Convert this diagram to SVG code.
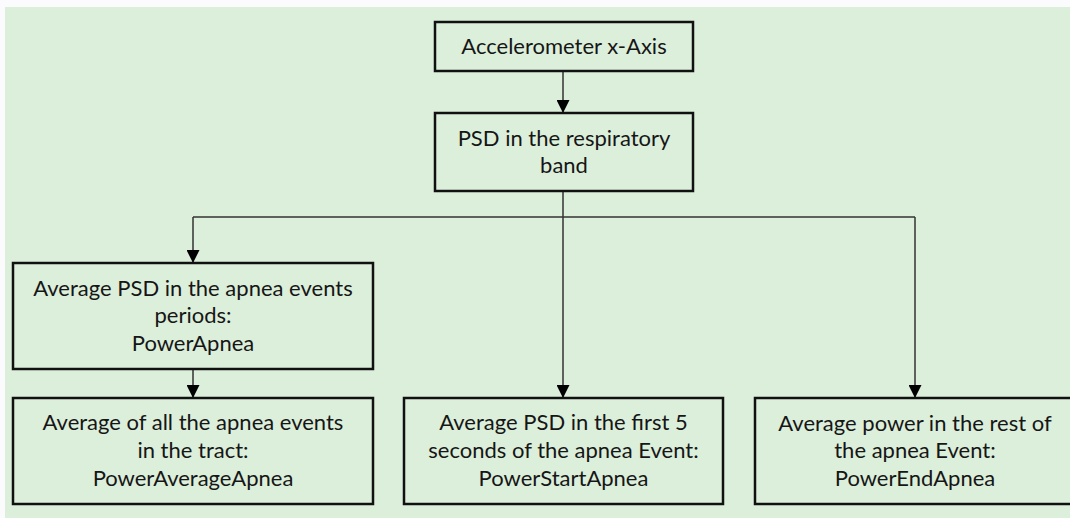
<svg xmlns="http://www.w3.org/2000/svg" width="1070" height="518" viewBox="0 0 1070 518">
  <style>
    .box { fill: none; stroke: #111; stroke-width: 2.5; }
    .lbl { font-family: Lato, "Open Sans", sans-serif; font-size: 22px; fill: #161616; text-anchor: middle; }
    .wire { fill: none; stroke: #333; stroke-width: 1.5; }
  </style>
  <defs>
    <marker id="arrow" viewBox="0 0 13 13" refX="13" refY="6.5" markerWidth="13" markerHeight="13" markerUnits="userSpaceOnUse" orient="auto">
      <path d="M0,0 L13,6.5 L0,13 Z" fill="#000"/>
    </marker>
  </defs>

  <!-- page background -->
  <rect x="0" y="0" width="1070" height="518" fill="#fbfbfe"/>
  <rect x="5" y="7" width="1065" height="511" fill="#dcefdb"/>

  <!-- connectors -->
  <g id="connectors">
    <line class="wire" x1="563" y1="71" x2="563" y2="113" marker-end="url(#arrow)"/>
    <path class="wire" d="M563,191 V217"/>
    <path class="wire" d="M193,217 H915"/>
    <line class="wire" x1="193" y1="217" x2="193" y2="263" marker-end="url(#arrow)"/>
    <line class="wire" x1="563" y1="217" x2="563" y2="398" marker-end="url(#arrow)"/>
    <line class="wire" x1="915" y1="217" x2="915" y2="398" marker-end="url(#arrow)"/>
    <line class="wire" x1="193" y1="369" x2="193" y2="398" marker-end="url(#arrow)"/>
  </g>

  <g id="accelerometer">
    <rect class="box" x="435" y="22" width="258" height="49"/>
    <text class="lbl" x="564" y="54">Accelerometer x-Axis</text>
  </g>

  <g id="psd-band">
    <rect class="box" x="435" y="113" width="258" height="78"/>
    <text class="lbl" x="564" y="146">PSD in the respiratory</text>
    <text class="lbl" x="564" y="173">band</text>
  </g>

  <g id="power-apnea">
    <rect class="box" x="13" y="263" width="360" height="106"/>
    <text class="lbl" x="193" y="296">Average PSD in the apnea events</text>
    <text class="lbl" x="193" y="323">periods:</text>
    <text class="lbl" x="193" y="351">PowerApnea</text>
  </g>

  <g id="power-average-apnea">
    <rect class="box" x="13" y="398" width="360" height="106"/>
    <text class="lbl" x="193" y="430">Average of all the apnea events</text>
    <text class="lbl" x="193" y="458">in the tract:</text>
    <text class="lbl" x="193" y="486">PowerAverageApnea</text>
  </g>

  <g id="power-start-apnea">
    <rect class="box" x="404" y="398" width="319" height="106"/>
    <text class="lbl" x="563.5" y="430">Average PSD in the first 5</text>
    <text class="lbl" x="563.5" y="458">seconds of the apnea Event:</text>
    <text class="lbl" x="563.5" y="486">PowerStartApnea</text>
  </g>

  <g id="power-end-apnea">
    <rect class="box" x="755" y="398" width="320" height="106"/>
    <text class="lbl" x="915" y="431">Average power in the rest of</text>
    <text class="lbl" x="915" y="458">the apnea Event:</text>
    <text class="lbl" x="915" y="486">PowerEndApnea</text>
  </g>
</svg>
